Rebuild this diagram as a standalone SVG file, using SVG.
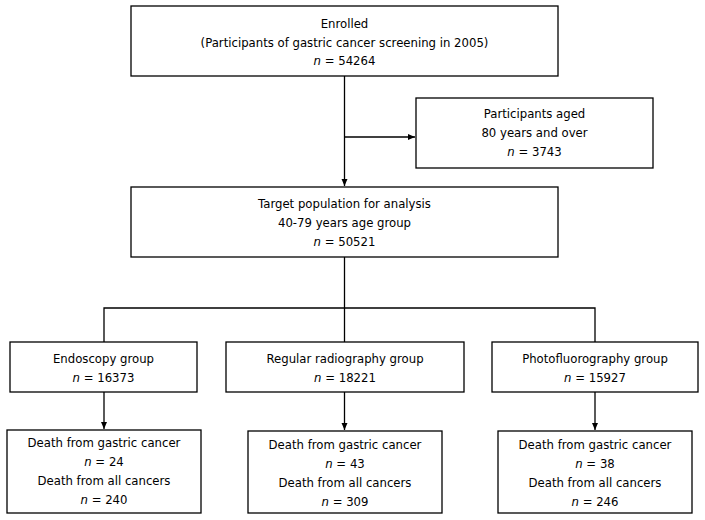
<svg xmlns="http://www.w3.org/2000/svg" width="705" height="520" viewBox="0 0 705 520">
<style>
.box{fill:#fff;stroke:#000;stroke-width:1.3}
.t{font-family:"DejaVu Sans",Verdana,sans-serif;font-size:11.7px;fill:#000;text-anchor:middle}
.n{font-style:italic}
.c{fill:none;stroke:#000;stroke-width:1.3}
</style>
<defs>
<marker id="ah" markerWidth="8" markerHeight="8" refX="7" refY="4" orient="auto" markerUnits="userSpaceOnUse">
<path d="M0,1 L7,4 L0,7 Z" fill="#000"/>
</marker>
</defs>
<rect width="705" height="520" fill="#fff"/>
<g id="connectors">
<line class="c" x1="344.5" y1="76" x2="344.5" y2="186" marker-end="url(#ah)"/>
<line class="c" x1="344.5" y1="137" x2="415" y2="137" marker-end="url(#ah)"/>
<line class="c" x1="344.5" y1="257" x2="344.5" y2="308"/>
<polyline class="c" points="104,342 104,308 595,308 595,342"/>
<line class="c" x1="344.5" y1="308" x2="344.5" y2="342"/>
<line class="c" x1="104" y1="392" x2="104" y2="429" marker-end="url(#ah)"/>
<line class="c" x1="344.5" y1="392" x2="344.5" y2="430" marker-end="url(#ah)"/>
<line class="c" x1="595" y1="392" x2="595" y2="430" marker-end="url(#ah)"/>
</g>
<g id="enrolled">
<rect class="box" x="131" y="6" width="427" height="70"/>
<text class="t" x="344.5" y="28">Enrolled</text>
<text class="t" x="344.5" y="47">(Participants of gastric cancer screening in 2005)</text>
<text class="t" x="344.5" y="65"><tspan class="n">n</tspan> = 54264</text>
</g>
<g id="excluded">
<rect class="box" x="416" y="98" width="237" height="70"/>
<text class="t" x="534.5" y="118">Participants aged</text>
<text class="t" x="534.5" y="137">80 years and over</text>
<text class="t" x="534.5" y="156"><tspan class="n">n</tspan> = 3743</text>
</g>
<g id="target">
<rect class="box" x="131" y="187" width="427" height="70"/>
<text class="t" x="344.5" y="208">Target population for analysis</text>
<text class="t" x="344.5" y="227">40-79 years age group</text>
<text class="t" x="344.5" y="246"><tspan class="n">n</tspan> = 50521</text>
</g>
<g id="endoscopy">
<rect class="box" x="10" y="342" width="187" height="50"/>
<text class="t" x="103.5" y="363">Endoscopy group</text>
<text class="t" x="103.5" y="382"><tspan class="n">n</tspan> = 16373</text>
</g>
<g id="radiography">
<rect class="box" x="226" y="342" width="238" height="50"/>
<text class="t" x="345" y="363">Regular radiography group</text>
<text class="t" x="345" y="382"><tspan class="n">n</tspan> = 18221</text>
</g>
<g id="photofluorography">
<rect class="box" x="492" y="342" width="206" height="50"/>
<text class="t" x="595" y="363">Photofluorography group</text>
<text class="t" x="595" y="382"><tspan class="n">n</tspan> = 15927</text>
</g>
<g id="endoscopy-deaths">
<rect class="box" x="7" y="430" width="194" height="83"/>
<text class="t" x="104" y="447">Death from gastric cancer</text>
<text class="t" x="104" y="466"><tspan class="n">n</tspan> = 24</text>
<text class="t" x="104" y="485">Death from all cancers</text>
<text class="t" x="104" y="504"><tspan class="n">n</tspan> = 240</text>
</g>
<g id="radiography-deaths">
<rect class="box" x="248" y="431" width="194" height="82"/>
<text class="t" x="345" y="449">Death from gastric cancer</text>
<text class="t" x="345" y="468"><tspan class="n">n</tspan> = 43</text>
<text class="t" x="345" y="487">Death from all cancers</text>
<text class="t" x="345" y="506"><tspan class="n">n</tspan> = 309</text>
</g>
<g id="photofluorography-deaths">
<rect class="box" x="498" y="431" width="194" height="82"/>
<text class="t" x="595" y="449">Death from gastric cancer</text>
<text class="t" x="595" y="468"><tspan class="n">n</tspan> = 38</text>
<text class="t" x="595" y="487">Death from all cancers</text>
<text class="t" x="595" y="506"><tspan class="n">n</tspan> = 246</text>
</g>
</svg>
